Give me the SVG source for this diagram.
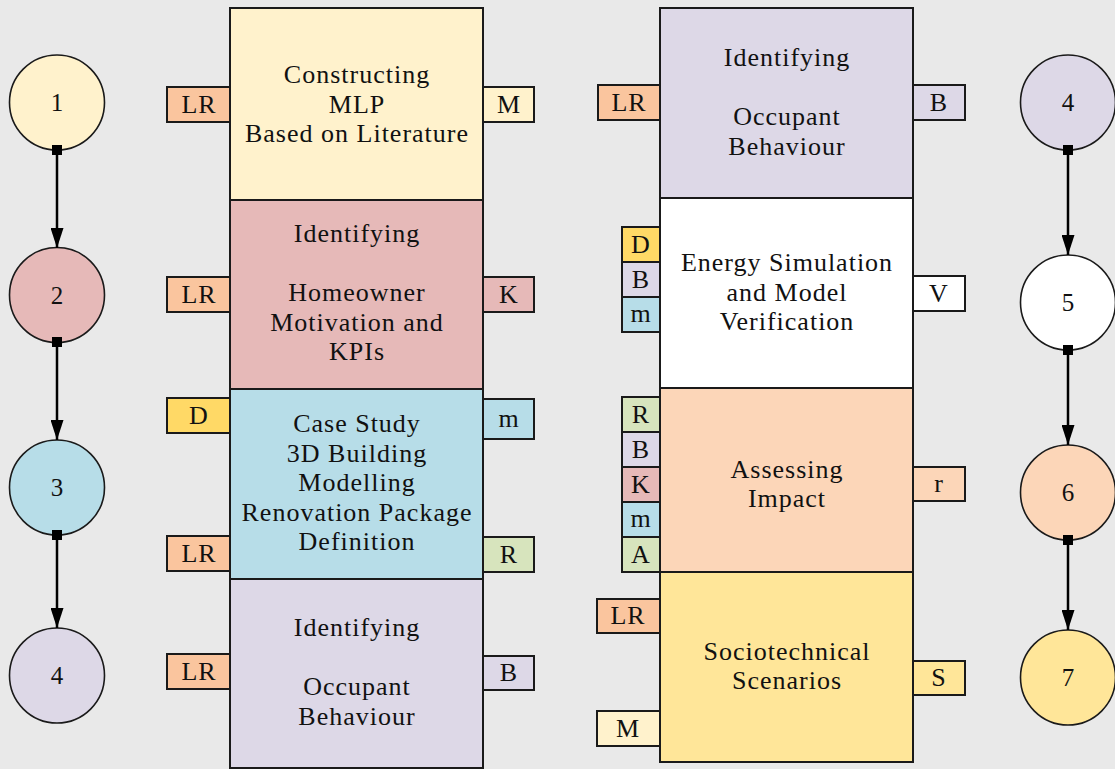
<svg xmlns="http://www.w3.org/2000/svg" width="1115" height="769" viewBox="0 0 1115 769">
  <defs>
    <style>
      .box { stroke: #1a1a1a; stroke-width: 2; }
      .tag { stroke: #1a1a1a; stroke-width: 2; }
      .circ { stroke: #1a1a1a; stroke-width: 1.6; }
      .t { font-family: "Liberation Serif", "Times New Roman", serif; font-size: 26px; letter-spacing: 1px; fill: #111; text-anchor: middle; }
      .lt { font-family: "Liberation Serif", "Times New Roman", serif; font-size: 26px; letter-spacing: 1px; fill: #111; text-anchor: middle; }
      .nt { font-family: "Liberation Serif", "Times New Roman", serif; font-size: 25px; fill: #111; text-anchor: middle; }
      .link { stroke: #000; stroke-width: 2.5; fill: none; marker-start: url(#sq); marker-end: url(#arr); }
      .cream { fill: #fff2cc; }
      .pink { fill: #e6b9b8; }
      .blue { fill: #b7dde8; }
      .lav { fill: #ddd8e7; }
      .orange { fill: #fac59e; }
      .gold { fill: #ffd966; }
      .green { fill: #d7e4bd; }
      .white { fill: #ffffff; }
      .peach { fill: #fcd6b8; }
      .yellow { fill: #ffe699; }
    </style>
    <marker id="arr" viewBox="0 0 20 13" refX="20" refY="6.5" markerWidth="20" markerHeight="13" markerUnits="userSpaceOnUse" orient="auto">
      <path d="M0,0 L20,6.5 L0,13 Z" fill="#000"/>
    </marker>
    <marker id="sq" viewBox="0 0 10 10" refX="5" refY="5" markerWidth="10" markerHeight="10" markerUnits="userSpaceOnUse" orient="auto">
      <rect x="0" y="0" width="10" height="10" fill="#000"/>
    </marker>
  </defs>

  <rect x="0" y="0" width="1115" height="769" fill="#e9e9e9"/>

  <!-- left step circles -->
  <g id="step-1"><circle class="circ cream" cx="57" cy="102.5" r="47.5"/><text class="nt" x="57" y="111">1</text></g>
  <g id="step-2"><circle class="circ pink" cx="57" cy="295" r="47.5"/><text class="nt" x="57" y="303.5">2</text></g>
  <g id="step-3"><circle class="circ blue" cx="57" cy="487.5" r="47.5"/><text class="nt" x="57" y="496">3</text></g>
  <g id="step-4a"><circle class="circ lav" cx="57" cy="675.5" r="47.5"/><text class="nt" x="57" y="684">4</text></g>

  <!-- right step circles -->
  <g id="step-4b"><circle class="circ lav" cx="1068" cy="102.5" r="47.5"/><text class="nt" x="1068" y="111">4</text></g>
  <g id="step-5"><circle class="circ white" cx="1068" cy="302.5" r="47.5"/><text class="nt" x="1068" y="311">5</text></g>
  <g id="step-6"><circle class="circ peach" cx="1068" cy="492.5" r="47.5"/><text class="nt" x="1068" y="501">6</text></g>
  <g id="step-7"><circle class="circ yellow" cx="1068" cy="677.5" r="47.5"/><text class="nt" x="1068" y="686">7</text></g>

  <!-- connectors between the step circles, drawn over the circle rims -->
  <g id="connectors">
    <line class="link" x1="57" y1="150" x2="57" y2="248"/>
    <line class="link" x1="57" y1="342" x2="57" y2="440"/>
    <line class="link" x1="57" y1="535" x2="57" y2="628"/>
    <line class="link" x1="1068" y1="150" x2="1068" y2="255"/>
    <line class="link" x1="1068" y1="350" x2="1068" y2="445"/>
    <line class="link" x1="1068" y1="540" x2="1068" y2="630"/>
  </g>

  <!-- left column of activity boxes -->
  <g id="box-mlp">
    <rect class="box cream" x="230" y="8" width="253" height="192"/>
    <text class="t" x="357" y="83">Constructing</text>
    <text class="t" x="357" y="112.5">MLP</text>
    <text class="t" x="357" y="142">Based on Literature</text>
    <rect class="tag orange" x="167" y="87" width="63" height="35"/><text class="lt" x="199" y="112.5">LR</text>
    <rect class="tag cream" x="483" y="87" width="51" height="35"/><text class="lt" x="509" y="112.5">M</text>
  </g>

  <g id="box-homeowner">
    <rect class="box pink" x="230" y="200" width="253" height="189"/>
    <text class="t" x="357" y="242">Identifying</text>
    <text class="t" x="357" y="301">Homeowner</text>
    <text class="t" x="357" y="330.5">Motivation and</text>
    <text class="t" x="357" y="360">KPIs</text>
    <rect class="tag orange" x="167" y="277" width="63" height="35"/><text class="lt" x="199" y="302.5">LR</text>
    <rect class="tag pink" x="483" y="277" width="51" height="35"/><text class="lt" x="509" y="302.5">K</text>
  </g>

  <g id="box-casestudy">
    <rect class="box blue" x="230" y="389" width="253" height="190"/>
    <text class="t" x="357" y="432">Case Study</text>
    <text class="t" x="357" y="461.5">3D Building</text>
    <text class="t" x="357" y="491">Modelling</text>
    <text class="t" x="357" y="520.5">Renovation Package</text>
    <text class="t" x="357" y="550">Definition</text>
    <rect class="tag gold" x="167" y="398" width="63" height="35"/><text class="lt" x="199" y="423.5">D</text>
    <rect class="tag blue" x="483" y="399" width="51" height="40"/><text class="lt" x="509" y="427">m</text>
    <rect class="tag orange" x="167" y="536" width="63" height="35"/><text class="lt" x="199" y="561.5">LR</text>
    <rect class="tag green" x="483" y="537" width="51" height="35"/><text class="lt" x="509" y="562.5">R</text>
  </g>

  <g id="box-occupant-left">
    <rect class="box lav" x="230" y="579" width="253" height="189"/>
    <text class="t" x="357" y="636">Identifying</text>
    <text class="t" x="357" y="695">Occupant</text>
    <text class="t" x="357" y="724.5">Behaviour</text>
    <rect class="tag orange" x="167" y="654" width="63" height="35"/><text class="lt" x="199" y="679.5">LR</text>
    <rect class="tag lav" x="483" y="656" width="51" height="34"/><text class="lt" x="509" y="681">B</text>
  </g>

  <!-- right column of activity boxes -->
  <g id="box-occupant-right">
    <rect class="box lav" x="660" y="8" width="253" height="190"/>
    <text class="t" x="787" y="66">Identifying</text>
    <text class="t" x="787" y="125">Occupant</text>
    <text class="t" x="787" y="154.5">Behaviour</text>
    <rect class="tag orange" x="598" y="85" width="62" height="35"/><text class="lt" x="629" y="110.5">LR</text>
    <rect class="tag lav" x="913" y="85" width="52" height="35"/><text class="lt" x="939" y="110.5">B</text>
  </g>

  <g id="box-simulation">
    <rect class="box white" x="660" y="198" width="253" height="190"/>
    <text class="t" x="787" y="271">Energy Simulation</text>
    <text class="t" x="787" y="300.5">and Model</text>
    <text class="t" x="787" y="330">Verification</text>
    <rect class="tag gold" x="622" y="227" width="38" height="35"/><text class="lt" x="641" y="252.5">D</text>
    <rect class="tag lav" x="622" y="262" width="38" height="35"/><text class="lt" x="641" y="287.5">B</text>
    <rect class="tag blue" x="622" y="297" width="38" height="35"/><text class="lt" x="641" y="322">m</text>
    <rect class="tag white" x="913" y="276" width="52" height="35"/><text class="lt" x="939" y="301.5">V</text>
  </g>

  <g id="box-impact">
    <rect class="box peach" x="660" y="388" width="253" height="184"/>
    <text class="t" x="787" y="478">Assessing</text>
    <text class="t" x="787" y="507">Impact</text>
    <rect class="tag green" x="622" y="397" width="38" height="35"/><text class="lt" x="641" y="422.5">R</text>
    <rect class="tag lav" x="622" y="432" width="38" height="35"/><text class="lt" x="641" y="457.5">B</text>
    <rect class="tag pink" x="622" y="467" width="38" height="35"/><text class="lt" x="641" y="492.5">K</text>
    <rect class="tag blue" x="622" y="502" width="38" height="35"/><text class="lt" x="641" y="527">m</text>
    <rect class="tag green" x="622" y="537" width="38" height="35"/><text class="lt" x="641" y="562.5">A</text>
    <rect class="tag peach" x="913" y="467" width="52" height="34"/><text class="lt" x="939" y="492">r</text>
  </g>

  <g id="box-scenarios">
    <rect class="box yellow" x="660" y="572" width="253" height="190"/>
    <text class="t" x="787" y="660">Sociotechnical</text>
    <text class="t" x="787" y="689">Scenarios</text>
    <rect class="tag orange" x="597" y="599" width="63" height="34"/><text class="lt" x="628" y="624">LR</text>
    <rect class="tag cream" x="597" y="711" width="63" height="35"/><text class="lt" x="628" y="736.5">M</text>
    <rect class="tag yellow" x="913" y="661" width="52" height="34"/><text class="lt" x="939" y="686">S</text>
  </g>
</svg>
